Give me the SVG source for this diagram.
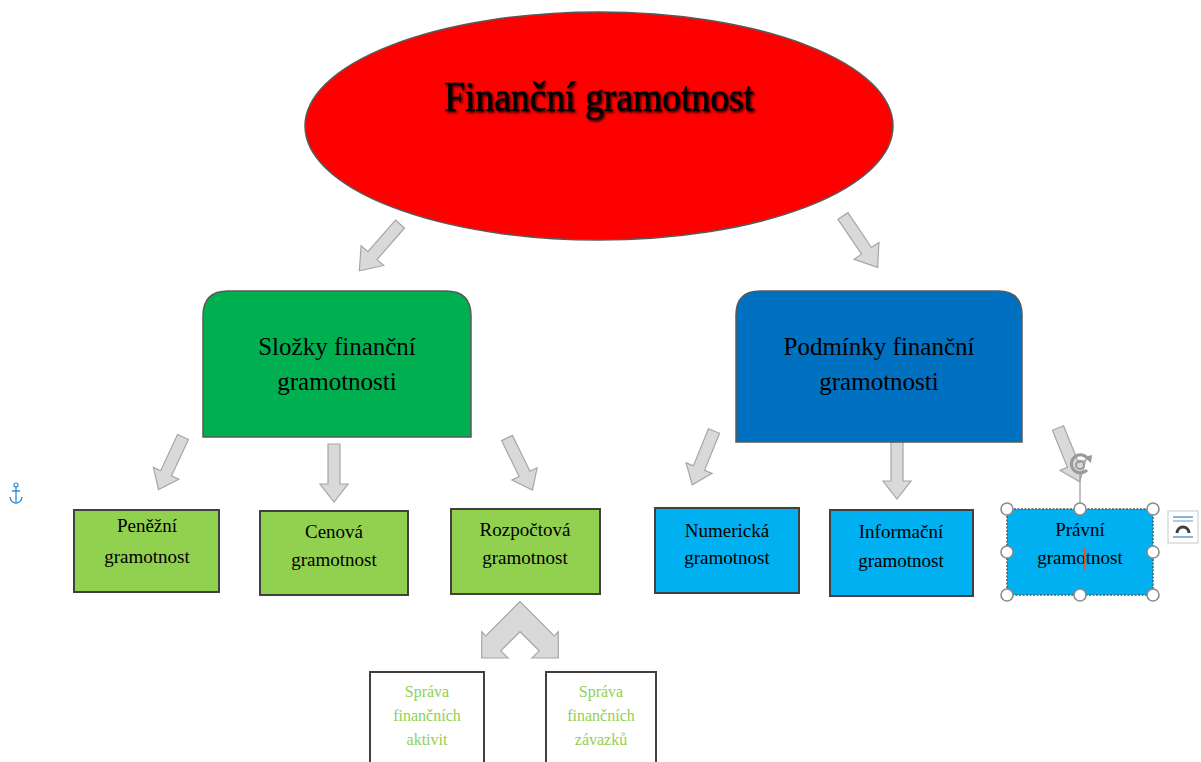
<svg xmlns="http://www.w3.org/2000/svg" xmlns:xlink="http://www.w3.org/1999/xlink" width="1201" height="762" viewBox="0 0 1201 762">
<style>
.t{font-family:"Liberation Serif","Times New Roman",serif;fill:#000;text-anchor:middle}
.t24{font-size:25px}
.t18{font-size:19px}
.g16{font-family:"Liberation Serif","Times New Roman",serif;font-size:16px;fill:#92D050;text-anchor:middle}
.arr{fill:#D9D9D9;stroke:#A6A6A6;stroke-width:1.2;stroke-linejoin:miter}
.sub{stroke:#404040;stroke-width:2}
.hdl{fill:#fff;stroke:#8C8C8C;stroke-width:1.6}
</style>
<defs>
<path id="arrA" d="M-6,0 H6 V42 H15 L0,62 L-15,42 H-6 Z"/>
<path id="arrB" d="M-6,0 H6 V40 H14 L0,58 L-14,40 H-6 Z"/>
<filter id="sh" x="-10%" y="-30%" width="120%" height="160%">
<feDropShadow dx="1.5" dy="1.5" stdDeviation="1.2" flood-color="#000" flood-opacity="0.85"/>
</filter>
</defs>
<rect width="1201" height="762" fill="#fff"/>

<g id="connectors">
<use xlink:href="#arrA" class="arr" transform="translate(400,224) rotate(41)"/>
<use xlink:href="#arrA" class="arr" transform="translate(843,216) rotate(-34)"/>
<use xlink:href="#arrB" class="arr" transform="translate(183,437) rotate(25)"/>
<use xlink:href="#arrB" class="arr" transform="translate(334,444)"/>
<use xlink:href="#arrB" class="arr" transform="translate(507,438) rotate(-26)"/>
<use xlink:href="#arrB" class="arr" transform="translate(714,431) rotate(22)"/>
<use xlink:href="#arrB" class="arr" transform="translate(897,441)"/>
<use xlink:href="#arrB" class="arr" transform="translate(1058,428) rotate(-22)"/>
<path class="arr" d="M520,601.5 L485.8,635.8 L481.7,631.7 L481.7,658 L508,658 L500.8,650.8 L520,631.7 L539.2,650.8 L532,658 L558.3,658 L558.3,631.7 L554.2,635.8 Z"/>
</g>

<g id="root">
<ellipse cx="599" cy="126" rx="294" ry="114" fill="#FF0000" stroke="#595959" stroke-width="1.5"/>
<text class="t" x="599" y="111" font-size="43" textLength="310" lengthAdjust="spacingAndGlyphs" filter="url(#sh)" stroke="#000" stroke-width="0.6">Finanční gramotnost</text>
</g>

<g id="slozky">
<path d="M203,437 V316 Q203,291 228,291 H446 Q471,291 471,316 V437 Z" fill="#00B050" stroke="#595959" stroke-width="1.5"/>
<text class="t t24" x="337" y="355">Složky finanční</text>
<text class="t t24" x="337" y="390">gramotnosti</text>
</g>

<g id="podminky">
<path d="M736,442 V315 Q736,291 760,291 H998 Q1022,291 1022,315 V442 Z" fill="#0070C0" stroke="#595959" stroke-width="1.5"/>
<text class="t t24" x="879" y="355">Podmínky finanční</text>
<text class="t t24" x="879" y="390">gramotnosti</text>
</g>

<g id="penezni">
<rect class="sub" x="74" y="510" width="145" height="82" fill="#92D050"/>
<text class="t t18" x="147" y="532">Peněžní</text>
<text class="t t18" x="147" y="563">gramotnost</text>
</g>

<g id="cenova">
<rect class="sub" x="260" y="511" width="148" height="84" fill="#92D050"/>
<text class="t t18" x="334" y="538">Cenová</text>
<text class="t t18" x="334" y="566">gramotnost</text>
</g>

<g id="rozpoctova">
<rect class="sub" x="451" y="509" width="149" height="85" fill="#92D050"/>
<text class="t t18" x="525" y="536">Rozpočtová</text>
<text class="t t18" x="525" y="564">gramotnost</text>
</g>

<g id="numericka">
<rect class="sub" x="655" y="508" width="144" height="85" fill="#00B0F0"/>
<text class="t t18" x="727" y="537">Numerická</text>
<text class="t t18" x="727" y="564">gramotnost</text>
</g>

<g id="informacni">
<rect class="sub" x="830" y="510" width="143" height="86" fill="#00B0F0"/>
<text class="t t18" x="901" y="538">Informační</text>
<text class="t t18" x="901" y="567">gramotnost</text>
</g>

<g id="pravni">
<rect x="1007" y="509" width="146" height="86" fill="#00B0F0" stroke="#595959" stroke-width="1.5" stroke-dasharray="2,1.5"/>
<text class="t t18" x="1080" y="536">Právní</text>
<text class="t t18" x="1080" y="564">gramotnost</text>
<line x1="1084.5" y1="548" x2="1084.5" y2="570" stroke="#E0502A" stroke-width="1.3"/>
</g>

<g id="sprava-aktiv">
<rect x="370" y="672" width="114" height="96" fill="#fff" stroke="#404040" stroke-width="2"/>
<text class="g16" x="427" y="697">Správa</text>
<text class="g16" x="427" y="721">finančních</text>
<text class="g16" x="427" y="745">aktivit</text>
</g>

<g id="sprava-zavazku">
<rect x="546" y="672" width="110" height="96" fill="#fff" stroke="#404040" stroke-width="2"/>
<text class="g16" x="601" y="697">Správa</text>
<text class="g16" x="601" y="721">finančních</text>
<text class="g16" x="601" y="745">závazků</text>
</g>

<g id="selection-ui">
<line x1="1080" y1="474" x2="1080" y2="503" stroke="#A0A0A0" stroke-width="1.3"/>
<path d="M1087,470 A9,9 0 1 1 1088,459" fill="none" stroke="#9A9A9A" stroke-width="3"/>
<path d="M1084,457 L1092,455 L1091,463 Z" fill="#9A9A9A"/>
<circle cx="1080" cy="465" r="4" fill="none" stroke="#9A9A9A" stroke-width="2"/>
<circle class="hdl" cx="1007" cy="509" r="6"/>
<circle class="hdl" cx="1080" cy="509" r="6"/>
<circle class="hdl" cx="1153" cy="509" r="6"/>
<circle class="hdl" cx="1007" cy="552" r="6"/>
<circle class="hdl" cx="1153" cy="552" r="6"/>
<circle class="hdl" cx="1007" cy="595" r="6"/>
<circle class="hdl" cx="1080" cy="595" r="6"/>
<circle class="hdl" cx="1153" cy="595" r="6"/>
<rect x="1168" y="511" width="30" height="32" fill="#fff" stroke="#C8C8C8" stroke-width="1"/>
<line x1="1173" y1="517" x2="1193" y2="517" stroke="#5B9BD5" stroke-width="1.5"/>
<line x1="1173" y1="521" x2="1193" y2="521" stroke="#5B9BD5" stroke-width="1"/>
<line x1="1173" y1="537" x2="1193" y2="537" stroke="#5B9BD5" stroke-width="1.5"/>
<path d="M1177,533 A6,6 0 0 1 1189,533" fill="none" stroke="#404040" stroke-width="3"/>
<path d="M16,487 V502 M12,491 H20 M10,497 Q11,503 16,503 Q21,503 22,497" fill="none" stroke="#2E8BD6" stroke-width="1.3"/>
<circle cx="16" cy="485" r="2" fill="none" stroke="#2E8BD6" stroke-width="1.2"/>
</g>
</svg>
